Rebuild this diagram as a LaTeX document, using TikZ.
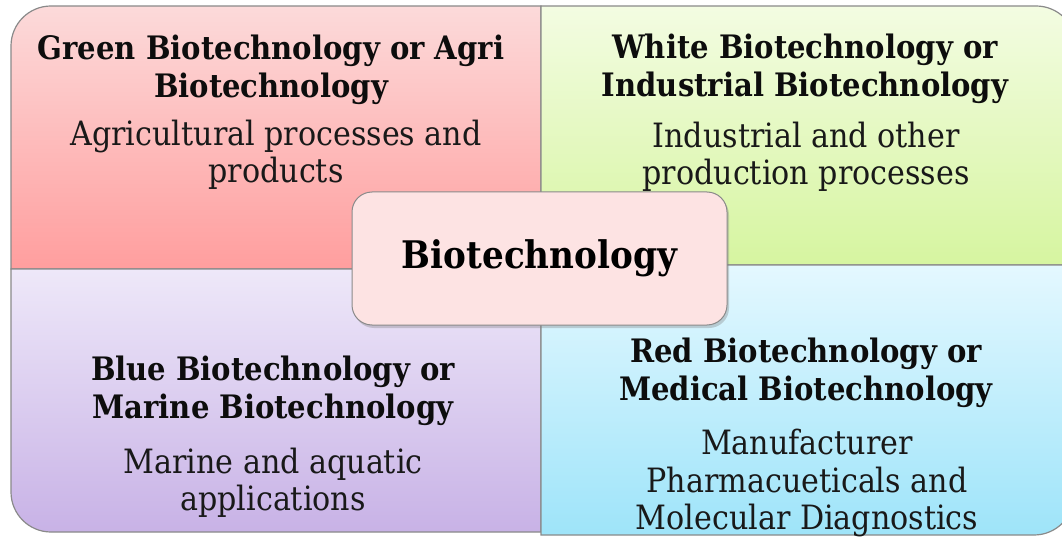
\documentclass[tikz,border=0pt]{standalone}
\usepackage{fontspec}
\setmainfont{DejaVu Serif Condensed}
\usetikzlibrary{shadows}
\definecolor{edgegray}{HTML}{8A8A8A}
\definecolor{pinkTop}{HTML}{FCDADA}
\definecolor{pinkBot}{HTML}{FF9E9E}
\definecolor{greenTop}{HTML}{F3FCE2}
\definecolor{greenBot}{HTML}{D6F5A0}
\definecolor{lavTop}{HTML}{EEE8F9}
\definecolor{lavBot}{HTML}{C8B2E6}
\definecolor{cyanTop}{HTML}{E4F8FF}
\definecolor{cyanBot}{HTML}{9EE4F9}
\definecolor{hubFill}{HTML}{FDE3E3}
\tikzset{
  quad/.style={draw=edgegray, line width=1.2pt},
  title/.style={inner sep=0pt, align=center, text=black!95,
    font=\fontsize{32.3}{38}\selectfont\bfseries},
  desc/.style={inner sep=0pt, align=center, text=black!90,
    font=\fontsize{33.5}{37.5}\selectfont},
  hub/.style={draw=edgegray, line width=1pt, fill=hubFill, rounded corners=20pt,
    minimum width=375pt, minimum height=133pt, inner sep=0pt,
    drop shadow={opacity=0.35, shadow xshift=2pt, shadow yshift=-3pt},
    font=\fontsize{38}{44}\selectfont\bfseries}
}
\begin{document}
\begin{tikzpicture}[x=1pt,y=-1pt]
\useasboundingbox (0,0) rectangle (1062,537);
\fill[white] (0,0) rectangle (1062,537);

% four quadrants, each with one rounded outer corner
\path[quad, top color=pinkTop, bottom color=pinkBot]
  (11,269) [rounded corners=40pt] -- (11,6) [sharp corners] -- (541,6) -- (541,269) -- cycle;
\path[quad, top color=greenTop, bottom color=greenBot]
  (541,6) [rounded corners=40pt] -- (1076,6) [sharp corners] -- (1076,265) -- (541,265) -- cycle;
\path[quad, top color=lavTop, bottom color=lavBot]
  (541,269) -- (11,269) [rounded corners=40pt] -- (11,532) [sharp corners] -- (541,532) -- cycle;
\path[quad, top color=cyanTop, bottom color=cyanBot]
  (541,265) -- (1074,265) [rounded corners=40pt] -- (1074,535) [sharp corners] -- (541,535) -- cycle;

% quadrant texts
\node[title] (gT) at (271,70) {Green Biotechnology or Agri\\Biotechnology};
\node[desc]  (gD) at (276,155) {Agricultural processes and\\products};
\node[title] (wT) at (805,69) {White Biotechnology or\\Industrial Biotechnology};
\node[desc]  (wD) at (806,157) {Industrial and other\\production processes};
\node[title] (bT) at (273,391) {Blue Biotechnology or\\Marine Biotechnology};
\node[desc]  (bD) at (273,483) {Marine and aquatic\\applications};
\node[title] (rT) at (806,373) {Red Biotechnology or\\Medical Biotechnology};
\node[desc]  (rD) at (807,483) {Manufacturer\\Pharmacueticals and\\Molecular Diagnostics};

% central hub
\node[hub] (hub) at (539.5,258.5) {Biotechnology};
\end{tikzpicture}
\end{document}
